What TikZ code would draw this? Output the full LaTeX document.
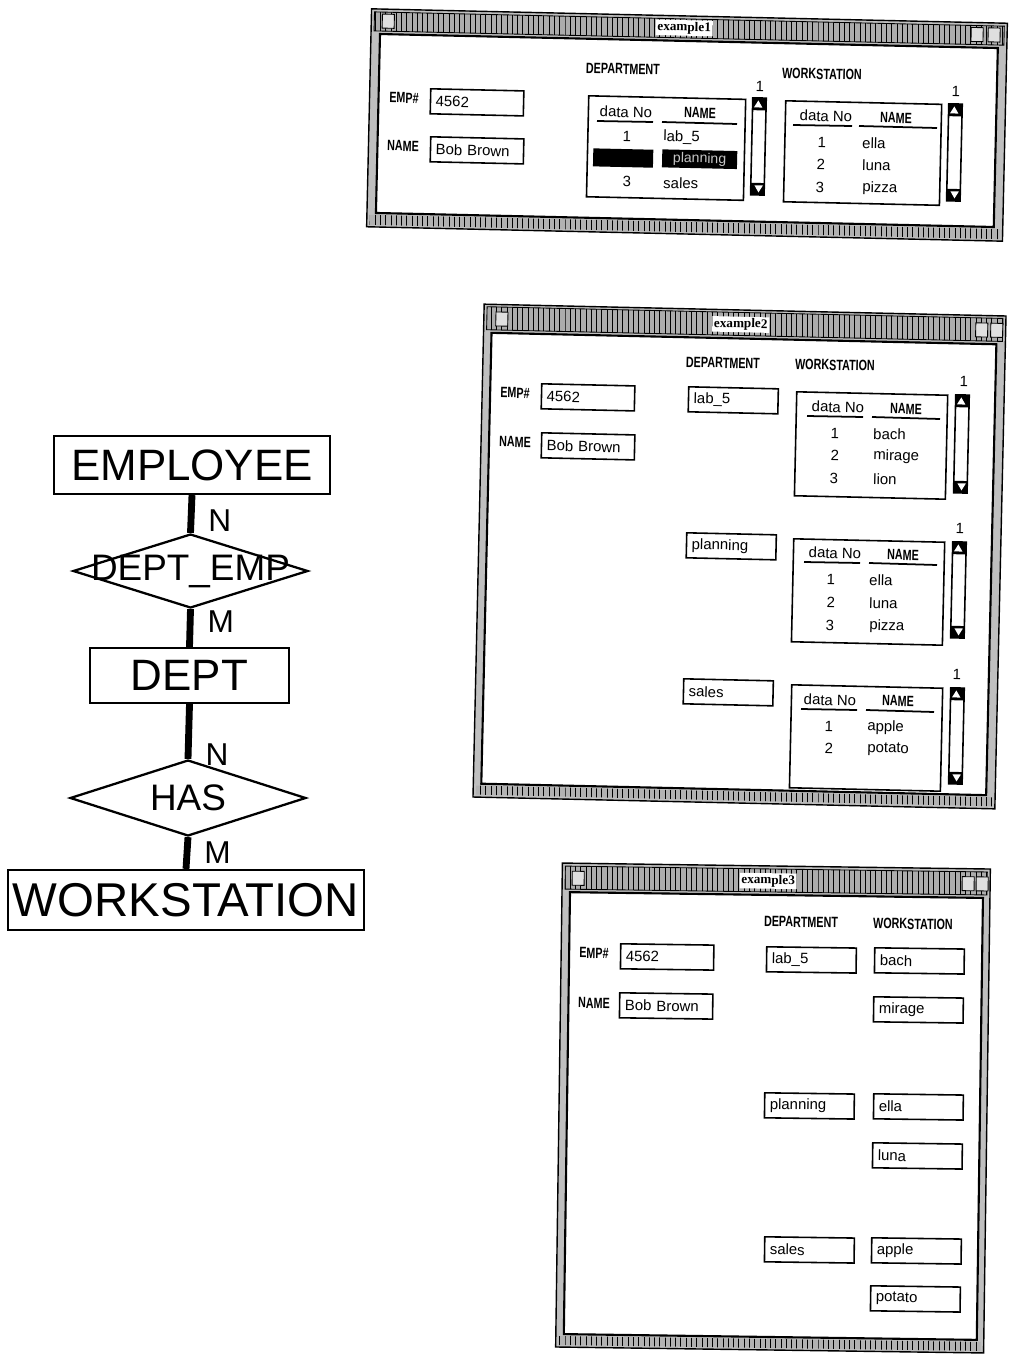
\documentclass[tikz,border=0pt]{standalone}
\usepackage{fontspec}
\setmainfont{Liberation Sans}
\newfontfamily\guifont{Liberation Sans}
\newfontfamily\guicond[FakeStretch=0.72]{Liberation Sans}
\newfontfamily\titlefont{Liberation Serif}
\usetikzlibrary{shapes.geometric,patterns}

\tikzset{
  entity/.style={draw, line width=1.3pt, inner sep=0pt, font=\fontsize{25}{28}\selectfont},
  relation/.style={draw, diamond, line width=1.3pt, inner sep=0pt, aspect=3, font=\fontsize{21}{24}\selectfont},
  reltext/.style={inner sep=0pt, font=\fontsize{21}{24}\selectfont},
  link/.style={line width=3.9pt},
  card/.style={anchor=west, xshift=8pt, inner sep=0pt, font=\fontsize{18}{20}\selectfont},
  winframe/.style={draw=black, line width=0.8pt, fill=gray!50},
  titlebar/.style={draw=black, line width=0.5pt, preaction={fill=gray!65}, pattern=vertical lines, pattern color=black},
  winarea/.style={draw=black, line width=1.2pt, fill=white},
  strip/.style={preaction={fill=gray!60}, pattern=vertical lines, pattern color=black},
  wintitle/.style={fill=white, inner sep=1pt, font=\titlefont\bfseries\fontsize{7.5}{8}\selectfont},
  winicon/.style={draw=black, line width=0.5pt, fill=gray!25, minimum width=0.24cm, minimum height=0.28cm, inner sep=0pt},
  guilabel/.style={inner sep=0pt, font=\guicond\bfseries\fontsize{8.5}{9}\selectfont},
  guitext/.style={inner sep=0pt, font=\guifont\fontsize{8.5}{9}\selectfont},
  field/.style={draw, line width=0.9pt, anchor=north west, text width=#1, inner xsep=3pt, inner ysep=0pt,
    minimum height=0.5cm, align=left, font=\guifont\fontsize{8.5}{9}\selectfont},
  field/.default=45pt,
  listbox/.style={draw, line width=0.9pt, anchor=north west, inner sep=0pt},
  uline/.style={line width=1pt},
  selbar/.style={fill=black, anchor=north west, inner sep=0pt, minimum height=0.36cm, text=gray!45,
    font=\guifont\fontsize{8}{9}\selectfont},
  scrollbar/.style={draw, line width=0.9pt, anchor=north west, inner sep=0pt, minimum width=0.27cm,
    path picture={
      \fill ([yshift=-7pt]path picture bounding box.north west) rectangle (path picture bounding box.north east);
      \fill ([yshift=7pt]path picture bounding box.south west) rectangle (path picture bounding box.south east);
      \fill[white] ([yshift=-1.5pt]path picture bounding box.north) -- ([xshift=-2.4pt,yshift=-5.5pt]path picture bounding box.north)
        -- ([xshift=2.4pt,yshift=-5.5pt]path picture bounding box.north) -- cycle;
      \fill[white] ([yshift=1.5pt]path picture bounding box.south) -- ([xshift=-2.4pt,yshift=5.5pt]path picture bounding box.south)
        -- ([xshift=2.4pt,yshift=5.5pt]path picture bounding box.south) -- cycle;
    }},
}

\begin{document}
\begin{tikzpicture}[x=0.02cm, y=-0.02cm]
        \useasboundingbox (0,0) rectangle (1009,1356);

        % ER 图
        \node[entity, minimum width=5.52cm, minimum height=1.16cm] (emp) at (192,465) {EMPLOYEE};
        \node[relation, minimum width=4.7cm, minimum height=1.48cm, label={[reltext]center:DEPT\_EMP}] (deptemp) at (190.5,571) {};
        \node[entity, minimum width=3.98cm, minimum height=1.1cm] (dept) at (189.5,675.5) {DEPT};
        \node[relation, minimum width=4.72cm, minimum height=1.52cm] (has) at (188,798) {HAS};
        \node[entity, minimum width=7.12cm, minimum height=1.2cm, font=\fontsize{27}{30}\selectfont] (ws) at (186,900) {WORKSTATION};

        \draw[link] (emp.south) -- (deptemp.north) node[card, pos=0.67]{N};
        \draw[link] (deptemp.south) -- (dept.north) node[card, pos=0.32]{M};
        \draw[link] (dept.south) -- (has.north) node[card, pos=0.93]{N};
        \draw[link] (has.south) -- (ws.north) node[card, pos=0.5]{M};

        % 窗口 example1
        \begin{scope}[shift={(687,125)}, rotate=-1.3, transform shape]
            \draw[winframe] (-318,-109) rectangle (318,109);
            \draw[titlebar] (-315,-106) rectangle (315,-87);
            \draw[winarea] (-309,-84) rectangle (309,95);
            \fill[strip] (-315,97) rectangle (315,107);
            \node[winicon] (w1lic) at (-301,-97) {};
            \node[winicon] (w1ric1) at (288,-97) {};
            \node[winicon] (w1ric2) at (305,-97) {};
            \node[wintitle] (w1title) at (-5,-97) {example1};
        \end{scope}
        \begin{scope}[every node/.append style={rotate=-1.3}]
            \node[guilabel] (w1empl) at (404,98) {EMP\#};
            \node[field=47pt] (w1emp) at (430,88) {4562};
            \node[guilabel] (w1namel) at (403,146) {NAME};
            \node[field=47pt] (w1name) at (430,136) {Bob Brown};
            % DEPARTMENT 列表
            \node[guilabel] (w1dept) at (623,69) {DEPARTMENT};
            \node[guitext] (w1dnum) at (760,86) {1};
            \node[listbox, minimum width=3.14cm, minimum height=2.02cm] (w1dlist) at (588,95) {};
            \node[guitext] (w1dh1) at (626,112) {data No};
            \node[guilabel] (w1dh2) at (700,113) {NAME};
            \draw[uline] (597,121) -- (653,122);
            \draw[uline] (662,122) -- (737,124);
            \node[guitext] (w1d1) at (627,136) {1};
            \node[guitext, anchor=west] (w1d1n) at (663,137) {lab\_5};
            \node[selbar, minimum width=1.2cm] (w1sel1) at (593,148) {};
            \node[selbar, minimum width=1.5cm] (w1sel2) at (662,149) {planning};
            \node[guitext] (w1d3) at (627,181) {3};
            \node[guitext, anchor=west] (w1d3n) at (663,183) {sales};
            \node[scrollbar, minimum height=1.94cm] (w1dscroll) at (752,97) {};
            % WORKSTATION 列表
            \node[guilabel] (w1ws) at (822,74) {WORKSTATION};
            \node[guitext] (w1wnum) at (956,91) {1};
            \node[listbox, minimum width=3.12cm, minimum height=2.02cm] (w1wlist) at (785,100) {};
            \node[guitext] (w1wh1) at (826,116) {data No};
            \node[guilabel] (w1wh2) at (896,118) {NAME};
            \draw[uline] (793,125) -- (852,126);
            \draw[uline] (859,126) -- (937,128);
            \node[guitext] (w1w1) at (822,142) {1};
            \node[guitext, anchor=west] (w1w1n) at (862,143) {ella};
            \node[guitext] (w1w2) at (821,164) {2};
            \node[guitext, anchor=west] (w1w2n) at (862,165) {luna};
            \node[guitext] (w1w3) at (820,187) {3};
            \node[guitext, anchor=west] (w1w3n) at (862,188) {pizza};
            \node[scrollbar, minimum height=1.94cm] (w1wscroll) at (948,103) {};
        \end{scope}

        % 窗口 example2
        \begin{scope}[shift={(739.5,556.5)}, rotate=-1.3, transform shape]
            \draw[winframe] (-261,-246.5) rectangle (261,246.5);
            \draw[titlebar] (-258,-244) rectangle (258,-221);
            \draw[winarea] (-253,-218) rectangle (252,233);
            \fill[strip] (-258,235) rectangle (258,244);
            \node[winicon] (w2lic) at (-243,-232) {};
            \node[winicon] (w2ric1) at (237,-232) {};
            \node[winicon] (w2ric2) at (252,-232) {};
            \node[wintitle] (w2title) at (-4,-232) {example2};
        \end{scope}
        \begin{scope}[every node/.append style={rotate=-1.3}]
            \node[guilabel] (w2empl) at (515,393) {EMP\#};
            \node[field=47pt] (w2emp) at (541,383) {4562};
            \node[guilabel] (w2namel) at (515,442) {NAME};
            \node[field=47pt] (w2name) at (541,432) {Bob Brown};
            \node[guilabel] (w2dept) at (723,363) {DEPARTMENT};
            \node[guilabel] (w2ws) at (835,365) {WORKSTATION};
            % lab_5
            \node[field] (w2lab) at (688,386) {lab\_5};
            \node[guitext] (w2anum) at (964,381) {1};
            \node[listbox, minimum width=3.02cm, minimum height=2.08cm] (w2alist) at (796,391) {};
            \node[guitext] (w2ah1) at (838,407) {data No};
            \node[guilabel] (w2ah2) at (906,409) {NAME};
            \draw[uline] (807,416) -- (863,417);
            \draw[uline] (872,417) -- (940,419);
            \node[guitext] (w2a1) at (835,433) {1};
            \node[guitext, anchor=west] (w2a1n) at (873,434) {bach};
            \node[guitext] (w2a2) at (835,455) {2};
            \node[guitext, anchor=west] (w2a2n) at (873,456) {mirage};
            \node[guitext] (w2a3) at (834,478) {3};
            \node[guitext, anchor=west] (w2a3n) at (873,479) {lion};
            \node[scrollbar, minimum height=1.96cm] (w2ascroll) at (955,394) {};
            % planning
            \node[field] (w2plan) at (686,532) {planning};
            \node[guitext] (w2bnum) at (960,528) {1};
            \node[listbox, minimum width=3.02cm, minimum height=2.06cm] (w2blist) at (793,538) {};
            \node[guitext] (w2bh1) at (835,553) {data No};
            \node[guilabel] (w2bh2) at (903,555) {NAME};
            \draw[uline] (804,562) -- (860,563);
            \draw[uline] (869,563) -- (937,565);
            \node[guitext] (w2b1) at (831,579) {1};
            \node[guitext, anchor=west] (w2b1n) at (869,580) {ella};
            \node[guitext] (w2b2) at (831,602) {2};
            \node[guitext, anchor=west] (w2b2n) at (869,603) {luna};
            \node[guitext] (w2b3) at (830,625) {3};
            \node[guitext, anchor=west] (w2b3n) at (869,626) {pizza};
            \node[scrollbar, minimum height=1.92cm] (w2bscroll) at (952,541) {};
            % sales
            \node[field] (w2sales) at (683,678) {sales};
            \node[guitext] (w2cnum) at (957,674) {1};
            \node[listbox, minimum width=3.02cm, minimum height=2.06cm] (w2clist) at (791,684) {};
            \node[guitext] (w2ch1) at (830,700) {data No};
            \node[guilabel] (w2ch2) at (898,701) {NAME};
            \draw[uline] (801,709) -- (857,710);
            \draw[uline] (866,710) -- (934,712);
            \node[guitext] (w2c1) at (829,726) {1};
            \node[guitext, anchor=west] (w2c1n) at (867,727) {apple};
            \node[guitext] (w2c2) at (829,748) {2};
            \node[guitext, anchor=west] (w2c2n) at (867,749) {potato};
            \node[scrollbar, minimum height=1.92cm] (w2cscroll) at (950,687) {};
        \end{scope}

        % 窗口 example3
        \begin{scope}[shift={(773,1108)}, rotate=-0.8, transform shape]
            \draw[winframe] (-214,-242) rectangle (214,242);
            \draw[titlebar] (-211,-239) rectangle (211,-216);
            \draw[winarea] (-206,-213) rectangle (207,229);
            \fill[strip] (-211,231) rectangle (211,240);
            \node[winicon] (w3lic) at (-198,-227) {};
            \node[winicon] (w3ric1) at (192,-227) {};
            \node[winicon] (w3ric2) at (206,-227) {};
            \node[wintitle] (w3title) at (-8,-227) {example3};
        \end{scope}
        \begin{scope}[every node/.append style={rotate=-0.8}]
            \node[guilabel] (w3empl) at (594,953) {EMP\#};
            \node[field=47pt] (w3emp) at (620,943) {4562};
            \node[guilabel] (w3namel) at (594,1003) {NAME};
            \node[field=47pt] (w3name) at (619,992) {Bob Brown};
            \node[guilabel] (w3dept) at (801,922) {DEPARTMENT};
            \node[guilabel] (w3ws) at (913,924) {WORKSTATION};
            \node[field] (w3lab) at (766,946) {lab\_5};
            \node[field] (w3bach) at (874,947) {bach};
            \node[field] (w3mirage) at (873,996) {mirage};
            \node[field] (w3plan) at (764,1092) {planning};
            \node[field] (w3ella) at (873,1093) {ella};
            \node[field] (w3luna) at (872,1142) {luna};
            \node[field] (w3sales) at (764,1236) {sales};
            \node[field] (w3apple) at (871,1237) {apple};
            \node[field] (w3potato) at (870,1285) {potato};
        \end{scope}
    \end{tikzpicture}
\end{document}
